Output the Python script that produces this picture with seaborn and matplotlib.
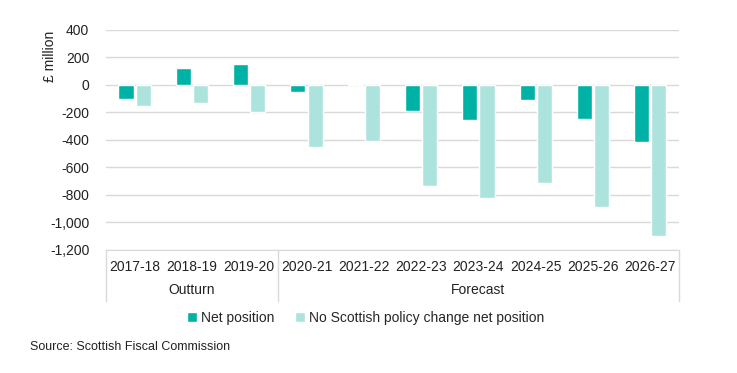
import pandas as pd
import matplotlib.pyplot as plt
import seaborn as sns
from matplotlib.ticker import FuncFormatter

years = ["2017-18", "2018-19", "2019-20", "2020-21", "2021-22",
         "2022-23", "2023-24", "2024-25", "2025-26", "2026-27"]
net_position = [-100, 120, 150, -50, 5, -190, -255, -110, -245, -415]
no_policy_change = [-150, -130, -200, -450, -410, -735, -825, -715, -885, -1100]
series_names = ["Net position", "No Scottish policy change net position"]
groups = [("Outturn", 0, 2), ("Forecast", 3, 9)]

df = pd.DataFrame({
    "year": years * 2,
    "value": net_position + no_policy_change,
    "series": [series_names[0]] * len(years) + [series_names[1]] * len(years),
})

sns.set_style("white")
plt.rcParams["font.family"] = ["Liberation Sans", "DejaVu Sans"]

fig = plt.figure(figsize=(7.37, 3.73), dpi=100)
ax = fig.add_axes([0.1438, 0.3298, 0.7774, 0.5898])

palette = {series_names[0]: "#00B2A6", series_names[1]: "#ADE3DD"}
sns.barplot(data=df, x="year", y="value", hue="series", palette=palette,
            width=0.6, gap=0.12, saturation=1, ax=ax, legend=True)

ax.set_ylim(-1200, 400)
ax.set_yticks(range(-1200, 401, 200))
ax.yaxis.set_major_formatter(FuncFormatter(lambda v, p: f"{int(v):,}"))
ax.set_xlim(-0.5, 9.5)
ax.grid(axis="y", color="#D9D9D9", linewidth=1)
ax.set_axisbelow(True)
for s in ["top", "right", "left"]:
    ax.spines[s].set_visible(False)
ax.spines["bottom"].set_color("#D9D9D9")
ax.tick_params(axis="both", length=0, labelsize=10, colors="#222222")
ax.tick_params(axis="x", pad=7)
ax.tick_params(axis="y", pad=12)
ax.set_xlabel("")
ax.set_ylabel("")

# category group box below the axis
for xpos in [-0.5, 2.5, 9.5]:
    ax.plot([xpos, xpos], [0, -0.23], transform=ax.get_xaxis_transform(),
            color="#D9D9D9", linewidth=1, clip_on=False)
for name, a, b in groups:
    ax.text((a + b) / 2, -0.183, name, transform=ax.get_xaxis_transform(),
            ha="center", va="center", fontsize=10, color="#222222")

fig.text(50 / 737, 1 - 56 / 373, "£ million", rotation=90, ha="center",
         va="center", fontsize=10, color="#222222")

handles, labels = ax.get_legend_handles_labels()
ax.legend_.remove()
fig.legend(handles, labels, loc="center", bbox_to_anchor=(366 / 737, 1 - 318 / 373),
           ncol=2, frameon=False, fontsize=10, handlelength=0.7,
           handleheight=0.7, handletextpad=0.3, columnspacing=1.5)

fig.text(30 / 737, 1 - 347 / 373, "Source: Scottish Fiscal Commission",
         fontsize=9, color="#222222", va="center")

fig.savefig("out.png", dpi=100)
